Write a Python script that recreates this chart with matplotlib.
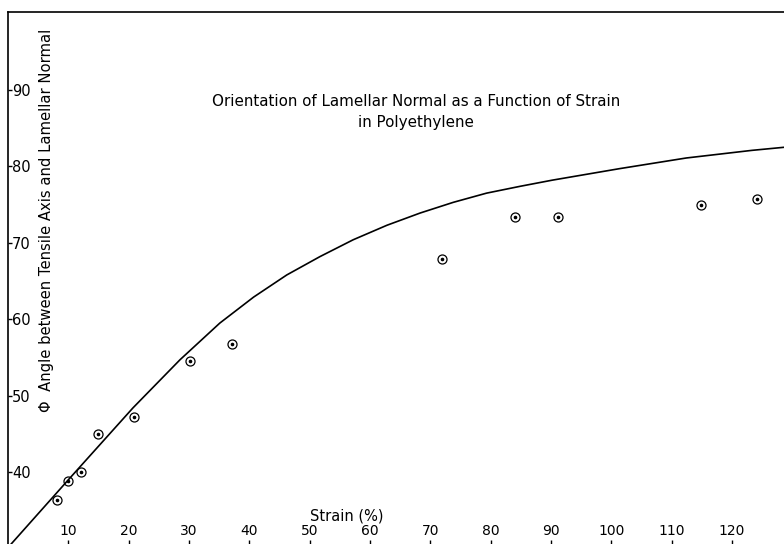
import matplotlib.pyplot as plt

# measured points (strain %, angle deg)
strain_pts = [8.1, 9.9, 12.1, 14.9, 20.9, 30.1, 37.1, 72.0, 84.1, 91.1, 114.9, 124.2]
angle_pts = [36.4, 38.8, 40.0, 45.0, 47.2, 54.5, 56.8, 67.9, 73.4, 73.4, 75.0, 75.7]

# hand-drawn theoretical curve
curve_strain = [0.3, 10.0, 20.7, 28.5, 35.1, 40.7, 46.2, 51.7, 57.2, 62.8, 68.3,
                73.8, 79.3, 84.9, 90.2, 101.3, 112.4, 123.3, 128.6]
curve_angle = [30.4, 39.0, 48.4, 54.7, 59.5, 62.9, 65.8, 68.2, 70.4, 72.3, 73.9,
               75.3, 76.5, 77.4, 78.2, 79.7, 81.1, 82.1, 82.5]

x_ticks = [10, 20, 30, 40, 50, 60, 70, 80, 90, 100, 110, 120]
y_ticks = [40, 50, 60, 70, 80, 90]

W, H = 784, 544
fig = plt.figure(figsize=(W / 100, H / 100), dpi=100)
ax = fig.add_axes([8 / W, 0, (W - 8) / W, (H - 12) / H])

ax.plot(curve_strain, curve_angle, color='black', lw=1.2)
ax.plot(strain_pts, angle_pts, ls='none', marker='o', ms=6.5, mfc='none',
        mec='black', mew=0.9)
ax.plot(strain_pts, angle_pts, ls='none', marker='o', ms=1.6, color='black')

ax.set_xlim(0, 128.6)
ax.set_ylim(30.6, 100.2)

for side in ['right', 'bottom']:
    ax.spines[side].set_visible(False)
ax.spines['left'].set_linewidth(1.2)
ax.spines['top'].set_linewidth(1.2)

ax.set_xticks(x_ticks)
ax.set_yticks(y_ticks)
ax.tick_params(axis='y', direction='in', length=3, width=1, pad=-3, labelsize=10.5)
ax.tick_params(axis='x', direction='in', length=3, width=1, pad=-4.5, labelsize=10)
for lab in ax.get_yticklabels():
    lab.set_horizontalalignment('left')
for lab in ax.get_xticklabels():
    lab.set_verticalalignment('bottom')

ax.text(347, H - 516, 'Strain (%)', transform=None, ha='center', va='center', fontsize=10.5)
ax.text(47, H - 220, '\u03a6  Angle between Tensile Axis and Lamellar Normal',
        transform=None, rotation=90, ha='center', va='center', fontsize=10.6)
ax.text(416, H - 102, 'Orientation of Lamellar Normal as a Function of Strain',
        transform=None, ha='center', va='center', fontsize=10.9)
ax.text(416, H - 122, 'in Polyethylene', transform=None, ha='center', va='center',
        fontsize=10.9)

fig.savefig('out.png', dpi=100)
